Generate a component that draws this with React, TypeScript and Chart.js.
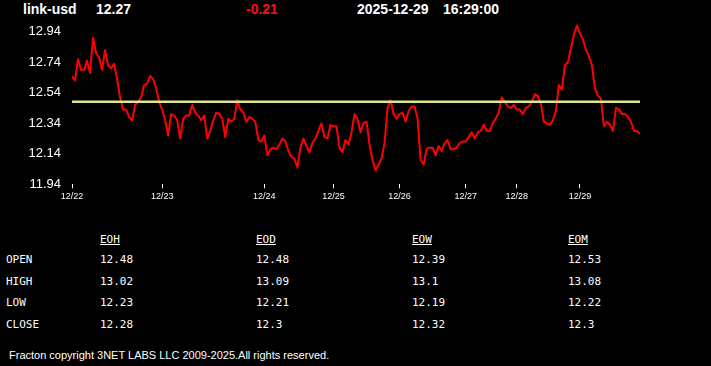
import React, { useEffect, useRef } from "react";
import { Chart, registerables } from "chart.js";

Chart.register(...registerables);

const symbol = "link-usd";
const lastPrice = "12.27";
const change = "-0.21";
const dateText = "2025-12-29";
const timeText = "16:29:00";

const prices: number[] = [
  12.65, 12.62, 12.76, 12.69, 12.69, 12.75, 12.67, 12.90, 12.80, 12.77,
  12.69, 12.82, 12.72, 12.70, 12.73, 12.63, 12.51, 12.43, 12.43, 12.38,
  12.36, 12.46, 12.48, 12.51, 12.59, 12.60, 12.65, 12.63, 12.57, 12.48,
  12.43, 12.36, 12.26, 12.40, 12.39, 12.36, 12.24, 12.37, 12.39, 12.39,
  12.46, 12.41, 12.39, 12.36, 12.39, 12.24, 12.29, 12.36, 12.41, 12.40,
  12.37, 12.25, 12.37, 12.35, 12.37, 12.49, 12.43, 12.41, 12.35, 12.38,
  12.37, 12.35, 12.23, 12.22, 12.26, 12.13, 12.17, 12.18, 12.17, 12.20,
  12.24, 12.22, 12.16, 12.12, 12.11, 12.05, 12.18, 12.24, 12.19, 12.15,
  12.21, 12.24, 12.29, 12.34, 12.25, 12.24, 12.33, 12.32, 12.32, 12.18,
  12.15, 12.23, 12.20, 12.28, 12.40, 12.37, 12.28, 12.34, 12.35, 12.20,
  12.10, 12.03, 12.07, 12.11, 12.21, 12.44, 12.49, 12.40, 12.37, 12.40,
  12.41, 12.35, 12.42, 12.45, 12.45, 12.37, 12.10, 12.07, 12.17, 12.18,
  12.18, 12.13, 12.19, 12.16, 12.21, 12.23, 12.17, 12.17, 12.18, 12.21,
  12.22, 12.22, 12.25, 12.28, 12.24, 12.28, 12.29, 12.33, 12.29, 12.29,
  12.34, 12.37, 12.41, 12.51, 12.48, 12.45, 12.44, 12.46, 12.43, 12.43,
  12.40, 12.44, 12.45, 12.48, 12.53, 12.52, 12.47, 12.35, 12.34, 12.33,
  12.36, 12.42, 12.59, 12.56, 12.72, 12.74, 12.83, 12.92, 12.98, 12.93,
  12.89, 12.82, 12.78, 12.72, 12.57, 12.52, 12.50, 12.32, 12.35, 12.33,
  12.29, 12.44, 12.43, 12.40, 12.40, 12.38, 12.35, 12.29, 12.29, 12.27,
];

const refLevel = 12.48;

const dayTickIndex: number[] = [0, 30, 64, 87, 109, 131, 148, 169];
const dayTickLabels: string[] = ["12/22", "12/23", "12/24", "12/25", "12/26", "12/27", "12/28", "12/29"];

const yTickValues: number[] = [11.94, 12.14, 12.34, 12.54, 12.74, 12.94];
const yTickLabels: string[] = ["11.94", "12.14", "12.34", "12.54", "12.74", "12.94"];
const yMin = 11.94;
const yMax = 13.0;

const tableColumns: string[] = ["EOH", "EOD", "EOW", "EOM"];
const tableRows: string[] = ["OPEN", "HIGH", "LOW", "CLOSE"];
const openValues: string[] = ["12.48", "12.48", "12.39", "12.53"];
const highValues: string[] = ["13.02", "13.09", "13.1", "13.08"];
const lowValues: string[] = ["12.23", "12.21", "12.19", "12.22"];
const closeValues: string[] = ["12.28", "12.3", "12.32", "12.3"];
const rowValues: string[][] = [openValues, highValues, lowValues, closeValues];

const footer = "Fracton copyright 3NET LABS LLC 2009-2025.All rights reserved.";

const SANS = "'Liberation Sans', Arial, sans-serif";
const MONO = "'DejaVu Sans Mono', 'Liberation Mono', monospace";

export default function App() {
  const canvasRef = useRef<HTMLCanvasElement | null>(null);

  useEffect(() => {
    document.body.style.margin = "0";
    document.body.style.background = "#000";
    const canvas = canvasRef.current;
    if (!canvas) return;
    const lastIdx = prices.length - 1;
    const chart = new Chart(canvas, {
      type: "line",
      data: {
        datasets: [
          {
            data: [
              { x: 0, y: refLevel },
              { x: lastIdx, y: refLevel },
            ],
            borderColor: "#dde690",
            borderWidth: 2.5,
            pointRadius: 0,
            tension: 0,
          },
          {
            data: prices.map((v, i) => ({ x: i, y: v })),
            borderColor: "#ff0000",
            borderWidth: 2,
            pointRadius: 0,
            tension: 0,
            borderJoinStyle: "round",
          },
        ],
      },
      options: {
        animation: false,
        responsive: false,
        devicePixelRatio: 1,
        layout: { padding: { top: 22.5, right: 71, left: 0, bottom: 0 } },
        plugins: { legend: { display: false }, tooltip: { enabled: false } },
        scales: {
          x: {
            type: "linear",
            min: 0,
            max: lastIdx,
            afterBuildTicks: (scale: any) => {
              scale.ticks = dayTickIndex.map((v) => ({ value: v }));
            },
            afterFit: (scale: any) => {
              scale.height = 30.7;
            },
            border: { display: false },
            grid: {
              display: true,
              drawOnChartArea: false,
              drawTicks: true,
              tickLength: 4,
              color: "#ffffff",
              lineWidth: 1,
            },
            ticks: {
              autoSkip: false,
              maxRotation: 0,
              padding: 3,
              color: "#ffffff",
              font: { size: 9, family: SANS },
              callback: (_v: any, i: number) => dayTickLabels[i],
            },
          },
          y: {
            type: "linear",
            min: yMin,
            max: yMax,
            afterBuildTicks: (scale: any) => {
              scale.ticks = yTickValues.map((v) => ({ value: v }));
            },
            afterFit: (scale: any) => {
              scale.width = 72;
            },
            border: { display: false },
            grid: { display: false, drawTicks: false },
            ticks: {
              padding: 11,
              color: "#ffffff",
              font: { size: 13, family: SANS },
              callback: (_v: any, i: number) => yTickLabels[i],
            },
          },
        },
      },
    } as any);
    return () => chart.destroy();
  }, []);

  const headerStyle: React.CSSProperties = {
    position: "absolute",
    top: 2,
    fontFamily: SANS,
    fontWeight: "bold",
    fontSize: 14,
    lineHeight: "14px",
    color: "#fff",
    whiteSpace: "nowrap",
  };

  const cellStyle: React.CSSProperties = {
    position: "absolute",
    fontFamily: MONO,
    fontSize: 11,
    lineHeight: "11px",
    color: "#fff",
    whiteSpace: "nowrap",
  };

  const colX = [100, 256, 412, 568];
  const rowTop = [254, 275.5, 297, 318.7];

  return (
    <div
      style={{
        position: "fixed",
        left: 0,
        top: 0,
        width: 711,
        height: 366,
        background: "#000",
        overflow: "hidden",
      }}
    >
      <div style={{ ...headerStyle, left: 23 }}>{symbol}</div>
      <div style={{ ...headerStyle, left: 96 }}>{lastPrice}</div>
      <div style={{ ...headerStyle, left: 246, color: "#ff1010" }}>{change}</div>
      <div style={{ ...headerStyle, left: 357 }}>{dateText}</div>
      <div style={{ ...headerStyle, left: 443 }}>{timeText}</div>

      <canvas
        ref={canvasRef}
        width={711}
        height={215}
        style={{ position: "absolute", left: 0, top: 0, width: 711, height: 215, display: "block" }}
      />

      {tableColumns.map((c, ci) => (
        <div key={c} style={{ ...cellStyle, left: colX[ci], top: 233.7, textDecoration: "underline" }}>
          {c}
        </div>
      ))}
      {tableRows.map((r, ri) => (
        <React.Fragment key={r}>
          <div style={{ ...cellStyle, left: 6, top: rowTop[ri] }}>{r}</div>
          {rowValues[ri].map((v, ci) => (
            <div key={ci} style={{ ...cellStyle, left: colX[ci], top: rowTop[ri] }}>
              {v}
            </div>
          ))}
        </React.Fragment>
      ))}

      <div
        style={{
          position: "absolute",
          left: 9,
          top: 349.7,
          fontFamily: SANS,
          fontSize: 11,
          lineHeight: "11px",
          color: "#fff",
          whiteSpace: "nowrap",
        }}
      >
        {footer}
      </div>
    </div>
  );
}
